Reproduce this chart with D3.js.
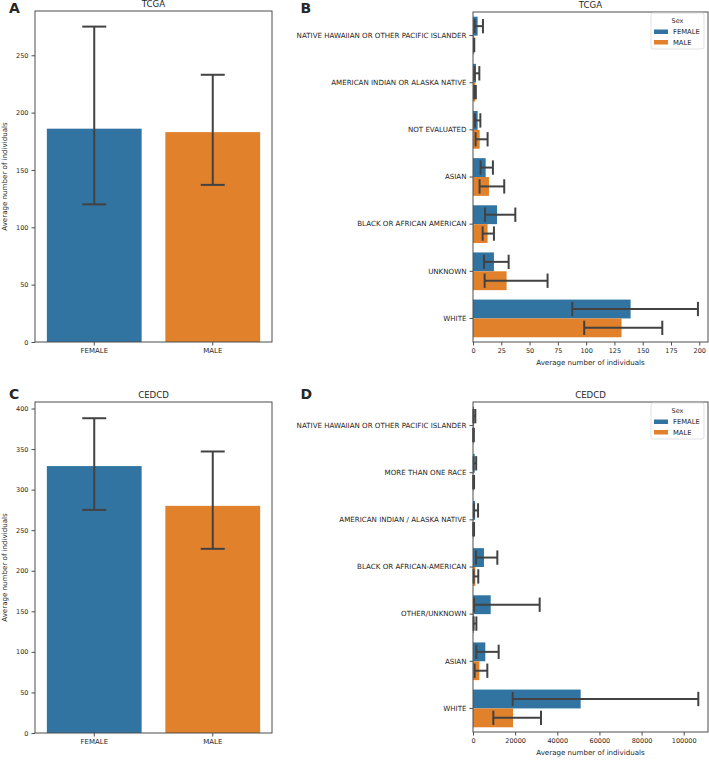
<!DOCTYPE html>
<html><head><meta charset="utf-8">
<script src="https://cdn.jsdelivr.net/npm/d3@7"></script>
<style>body{margin:0;background:#fff}svg{display:block}text{font-family:"DejaVu Sans",sans-serif;fill:#262626}</style>
</head><body><svg id="c" width="709" height="760"></svg>
<script>
const sexes = ["FEMALE","MALE"];
const colors = ["#3274a1","#e1812c"];

// Panel A (TCGA totals)
const aMean = [186, 183];
const aLo = [120, 137];
const aHi = [275, 233];
const aTicks = [0,50,100,150,200,250];

// Panel C (CEDCD totals)
const cMean = [329, 280];
const cLo = [275, 227];
const cHi = [388, 347];
const cTicks = [0,50,100,150,200,250,300,350,400];

// Panel B (TCGA by race)
const bCats = ["NATIVE HAWAIIAN OR OTHER PACIFIC ISLANDER","AMERICAN INDIAN OR ALASKA NATIVE","NOT EVALUATED","ASIAN","BLACK OR AFRICAN AMERICAN","UNKNOWN","WHITE"];
const bFemale = [4.1, 2.6, 4.1, 11.2, 21.2, 18.5, 139.3];
const bFemaleLo = [1.5, 1.4, 1.7, 6.7, 10.6, 9.7, 87.7];
const bFemaleHi = [8.8, 5.6, 6.5, 17.6, 37.4, 31.5, 198.8];
const bMale = [1.0, 2.0, 5.9, 14.1, 12.9, 29.7, 131.3];
const bMaleLo = [1.0, 1.0, 2.3, 5.8, 8.5, 10.3, 98.3];
const bMaleHi = [1.0, 2.5, 12.9, 27.6, 18.5, 65.9, 167.3];
const bTicks = [0,25,50,75,100,125,150,175,200];

// Panel D (CEDCD by race)
const dCats = ["NATIVE HAWAIIAN OR OTHER PACIFIC ISLANDER","MORE THAN ONE RACE","AMERICAN INDIAN / ALASKA NATIVE","BLACK OR AFRICAN-AMERICAN","OTHER/UNKNOWN","ASIAN","WHITE"];
const dFemale = [500, 800, 1000, 5200, 8400, 5850, 51100];
const dFemaleLo = [200, 300, 400, 1400, 470, 1580, 18830];
const dFemaleHi = [1100, 1500, 2400, 11550, 31640, 12180, 106930];
const dMale = [300, 300, 200, 1100, 500, 3000, 18990];
const dMaleLo = [100, 100, 100, 300, 300, 790, 9650];
const dMaleHi = [400, 500, 500, 2500, 1600, 6800, 32270];
const dTicks = [0,20000,40000,60000,80000,100000];

const svg = d3.select("#c");
const ERR = "#424242", SPINE = "#4d4d4d";

function frame(g, L, R, T, B){
  g.append("rect").attr("x",L).attr("y",T).attr("width",R-L).attr("height",B-T)
   .attr("fill","none").attr("stroke",SPINE).attr("stroke-width",1);
}
function letterText(x,y,t){
  svg.append("text").attr("x",x).attr("y",y).attr("font-family","Liberation Sans, Arial, sans-serif")
    .attr("font-weight","bold").attr("font-size","14px").attr("fill","#000").text(t);
}

function vPanel(L,R,T,B,ymax,mean,lo,hi,ticks,title){
  const g = svg.append("g");
  const x = d3.scaleBand().domain(sexes).range([L,R]).paddingInner(0.2).paddingOuter(0.1);
  const y = d3.scaleLinear().domain([0,ymax]).range([B,T]);
  g.selectAll("rect.bar").data(sexes).join("rect").attr("class","bar")
    .attr("x",d=>x(d)).attr("width",x.bandwidth())
    .attr("y",(d,i)=>y(mean[i])).attr("height",(d,i)=>y(0)-y(mean[i]))
    .attr("fill",(d,i)=>colors[i]);
  const cx = d=>x(d)+x.bandwidth()/2;
  const cap = 12;
  sexes.forEach((d,i)=>{
    g.append("line").attr("x1",cx(d)).attr("x2",cx(d)).attr("y1",y(lo[i])).attr("y2",y(hi[i])).attr("stroke",ERR).attr("stroke-width",2);
    [lo[i],hi[i]].forEach(v=>g.append("line").attr("x1",cx(d)-cap).attr("x2",cx(d)+cap).attr("y1",y(v)).attr("y2",y(v)).attr("stroke",ERR).attr("stroke-width",2));
  });
  const ya = g.append("g").attr("transform",`translate(${L},0)`).call(d3.axisLeft(y).tickValues(ticks).tickSize(3.5).tickPadding(3));
  const xa = g.append("g").attr("transform",`translate(0,${B})`).call(d3.axisBottom(x).tickSize(3.5).tickPadding(3));
  [ya,xa].forEach(a=>{a.select(".domain").remove();a.selectAll("line").attr("stroke",SPINE);a.selectAll("text").attr("fill","#262626").attr("font-family","DejaVu Sans");});
  ya.selectAll("text").attr("font-size","6.5px");
  xa.selectAll("text").attr("font-size","7px");
  frame(g,L,R,T,B);
  g.append("text").attr("x",(L+R)/2).attr("y",T-4).attr("text-anchor","middle").attr("font-size","8.6px").text(title);
  g.append("text").attr("transform",`translate(7,${(T+B)/2}) rotate(-90)`).attr("text-anchor","middle").attr("font-size","7.1px").text("Average number of individuals");
}

function hPanel(L,R,T,B,xmax,cats,fm,fl,fh,mm,ml,mh,ticks,title){
  const g = svg.append("g");
  const y = d3.scaleBand().domain(cats).range([T,B]).paddingInner(0.2).paddingOuter(0.1);
  const hue = d3.scaleBand().domain(sexes).range([0,y.bandwidth()]);
  const x = d3.scaleLinear().domain([0,xmax]).range([L,R]);
  const series = [[fm,fl,fh],[mm,ml,mh]];
  series.forEach((s,si)=>{
    g.selectAll(null).data(cats).join("rect")
      .attr("x",x(0)).attr("y",d=>y(d)+hue(sexes[si])).attr("height",hue.bandwidth())
      .attr("width",(d,i)=>x(s[0][i])-x(0)).attr("fill",colors[si]);
  });
  const cap = hue.bandwidth()*0.38;
  series.forEach((s,si)=>{
    cats.forEach((d,i)=>{
      const cy = y(d)+hue(sexes[si])+hue.bandwidth()/2;
      g.append("line").attr("x1",x(s[1][i])).attr("x2",x(s[2][i])).attr("y1",cy).attr("y2",cy).attr("stroke",ERR).attr("stroke-width",2);
      [s[1][i],s[2][i]].forEach(v=>g.append("line").attr("x1",x(v)).attr("x2",x(v)).attr("y1",cy-cap).attr("y2",cy+cap).attr("stroke",ERR).attr("stroke-width",2));
    });
  });
  const xa = g.append("g").attr("transform",`translate(0,${B})`).call(d3.axisBottom(x).tickValues(ticks).tickFormat(d3.format("d")).tickSize(3.5).tickPadding(3));
  const ya = g.append("g").attr("transform",`translate(${L},0)`).call(d3.axisLeft(y).tickSize(3.5).tickPadding(3));
  [ya,xa].forEach(a=>{a.select(".domain").remove();a.selectAll("line").attr("stroke",SPINE);a.selectAll("text").attr("fill","#262626").attr("font-family","DejaVu Sans");});
  xa.selectAll("text").attr("font-size","6.5px");
  ya.selectAll("text").attr("font-size","7.1px");
  frame(g,L,R,T,B);
  g.append("text").attr("x",(L+R)/2).attr("y",T-4).attr("text-anchor","middle").attr("font-size","8.6px").text(title);
  g.append("text").attr("x",(L+R)/2).attr("y",B+23).attr("text-anchor","middle").attr("font-size","7.1px").text("Average number of individuals");
  // legend
  const lx = R-57, ly = T+1;
  const lg = g.append("g");
  lg.append("rect").attr("x",lx).attr("y",ly).attr("width",53).attr("height",36).attr("rx",2)
    .attr("fill","#fff").attr("fill-opacity",0.8).attr("stroke","#d9d9d9").attr("stroke-width",0.8);
  lg.append("text").attr("x",lx+26.5).attr("y",ly+10).attr("text-anchor","middle").attr("font-size","6.5px").text("Sex");
  sexes.forEach((s,i)=>{
    lg.append("rect").attr("x",lx+3).attr("y",ly+16.5+i*10.5).attr("width",14).attr("height",4.5).attr("fill",colors[i]);
    lg.append("text").attr("x",lx+22).attr("y",ly+21.3+i*10.5).attr("font-size","6.8px").text(s);
  });
}

vPanel(35,272,11,342,288.6,aMean,aLo,aHi,aTicks,"TCGA");
vPanel(35,272,402,733,408,cMean,cLo,cHi,cTicks,"CEDCD");
hPanel(473,708,12,342,207.7,bCats,bFemale,bFemaleLo,bFemaleHi,bMale,bMaleLo,bMaleHi,bTicks,"TCGA");
hPanel(473,708,402,732,111530,dCats,dFemale,dFemaleLo,dFemaleHi,dMale,dMaleLo,dMaleHi,dTicks,"CEDCD");
letterText(9,12.5,"A");
letterText(300.5,12.5,"B");
letterText(9,399,"C");
letterText(300.5,399,"D");
</script></body></html>
